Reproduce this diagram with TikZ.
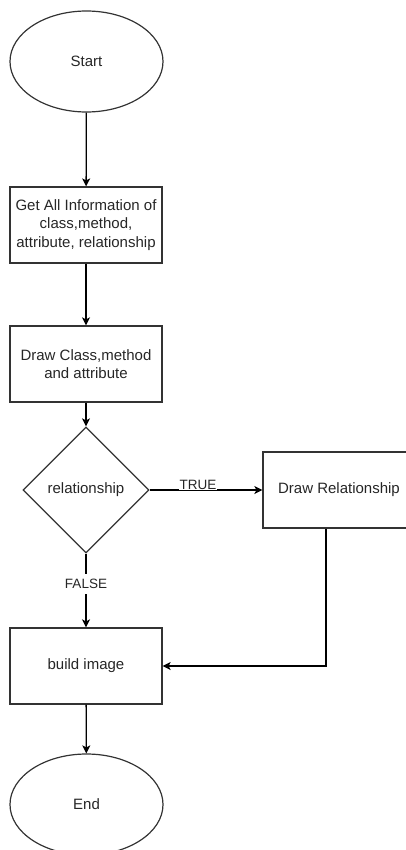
\documentclass[tikz,border=0pt]{standalone}
\usepackage{fontspec}
\setmainfont{Liberation Sans}
\usetikzlibrary{shapes.geometric,arrows.meta}
\begin{document}
\begin{tikzpicture}[x=1pt,y=-1pt,
  every node/.style={font=\fontsize{15}{18.7}\selectfont, text=black!85},
  shapeline/.style={draw=black!80, line width=1.2pt},
  terminal/.style={shapeline, ellipse, minimum width=153pt, minimum height=101pt, inner sep=0pt},
  procbox/.style={shapeline, rectangle, minimum width=152pt, minimum height=76pt, inner sep=0pt, align=center},
  decision/.style={shapeline, diamond, minimum width=126pt, minimum height=126pt, inner sep=0pt},
  flow/.style={draw=black, line width=1.3pt, -{Stealth[length=8pt,width=8pt,inset=2pt]}},
  edgelabel/.style={font=\fontsize{13.5}{16}\selectfont, fill=white, inner ysep=1pt, inner xsep=1pt}
]
\useasboundingbox (0,0) rectangle (406,850);
\node[terminal] (start) at (86.5,61.5) {Start};
\node[procbox] (info) at (86,225) {Get All Information of\\class,method,\\attribute, relationship};
\node[procbox] (drawcls) at (86,364) {Draw Class,method\\and attribute};
\node[decision] (dec) at (86,490) {relationship};
\node[procbox] (rel) at (339,490) {Draw Relationship};
\node[procbox] (build) at (86,666) {build image};
\node[terminal] (end) at (86.5,804.5) {End};

\draw[flow] (start) -- (info);
\draw[flow] (info) -- (drawcls);
\draw[flow] (drawcls) -- (dec);
\draw[flow] (dec.east) -- (rel.west);
\node[edgelabel] (truelbl) at (198,484.5) {TRUE};
\draw[flow] (dec.south) -- (build.north);
\node[edgelabel, inner ysep=5pt] (falselbl) at (86,584) {FALSE};
\draw[flow] ([xshift=-13pt]rel.south) |- (build.east);
\draw[flow] (build) -- (end);
\end{tikzpicture}
\end{document}
